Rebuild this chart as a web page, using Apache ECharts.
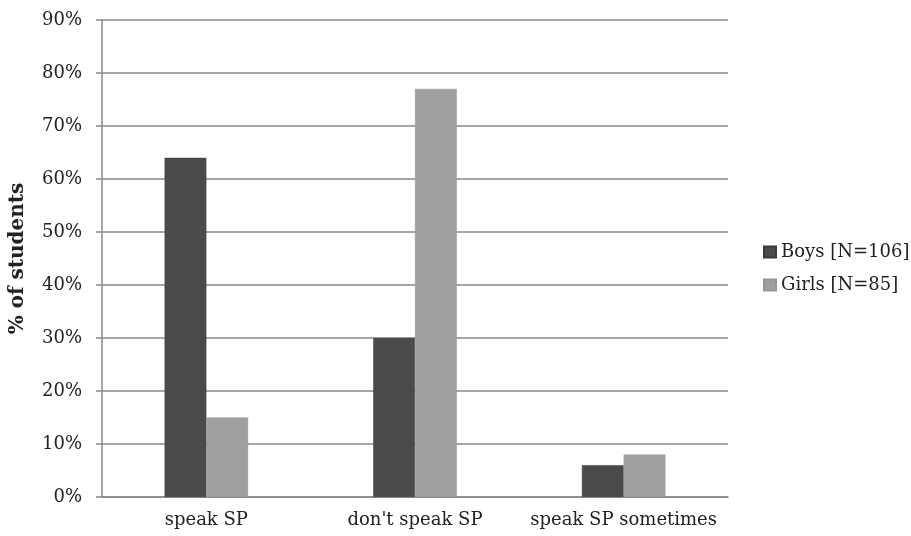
<!DOCTYPE html>
<html><head><meta charset="utf-8">
<script src="https://cdn.jsdelivr.net/npm/echarts@6/dist/echarts.min.js"></script>
<style>html,body{margin:0;padding:0;background:#fff}#c{width:911px;height:536px}</style>
</head><body><div id="c"></div>
<script>
const categories = ["speak SP", "don't speak SP", "speak SP sometimes"];
const boys = [64, 30, 6];
const girls = [15, 77, 8];
const seriesNames = ["Boys [N=106]", "Girls [N=85]"];
const FONT = "DejaVu Serif";
const chart = echarts.init(document.getElementById('c'));
chart.setOption({
  animation: false,
  backgroundColor: '#fff',
  grid: {left: 102, right: 183, top: 20, bottom: 39},
  legend: {
    orient: 'vertical', left: 763, top: 242, itemWidth: 12, itemHeight: 11, itemGap: 13,
    icon: 'rect', padding: 0,
    textStyle: {fontFamily: FONT, fontSize: 18, color: '#222', lineHeight: 20},
    data: seriesNames
  },
  xAxis: {
    type: 'category', data: categories,
    axisLine: {lineStyle: {color: '#888', width: 1.5}},
    axisTick: {show: false},
    axisLabel: {fontFamily: FONT, fontSize: 18, color: '#222', margin: 14, interval: 0, hideOverlap: false}
  },
  yAxis: {
    type: 'value', min: 0, max: 90, interval: 10,
    name: '% of students', nameLocation: 'middle', nameGap: 74, nameRotate: 90,
    nameTextStyle: {fontFamily: FONT, fontSize: 20, fontWeight: 'bold', color: '#222'},
    axisLine: {show: true, lineStyle: {color: '#888', width: 1.5}},
    axisTick: {show: true, length: 6, lineStyle: {color: '#888', width: 1.5}},
    axisLabel: {formatter: '{value}%', fontFamily: FONT, fontSize: 18, color: '#222', margin: 20},
    splitLine: {lineStyle: {color: '#888', width: 1.5}}
  },
  series: [
    {name: seriesNames[0], type: 'bar', data: boys, barGap: '0%', barCategoryGap: '60%',
     itemStyle: {color: '#4a4a4a', borderColor: '#3a3a3a', borderWidth: 0.5}},
    {name: seriesNames[1], type: 'bar', data: girls,
     itemStyle: {color: '#a0a0a0', borderColor: '#959595', borderWidth: 0.5}}
  ]
});
</script></body></html>
